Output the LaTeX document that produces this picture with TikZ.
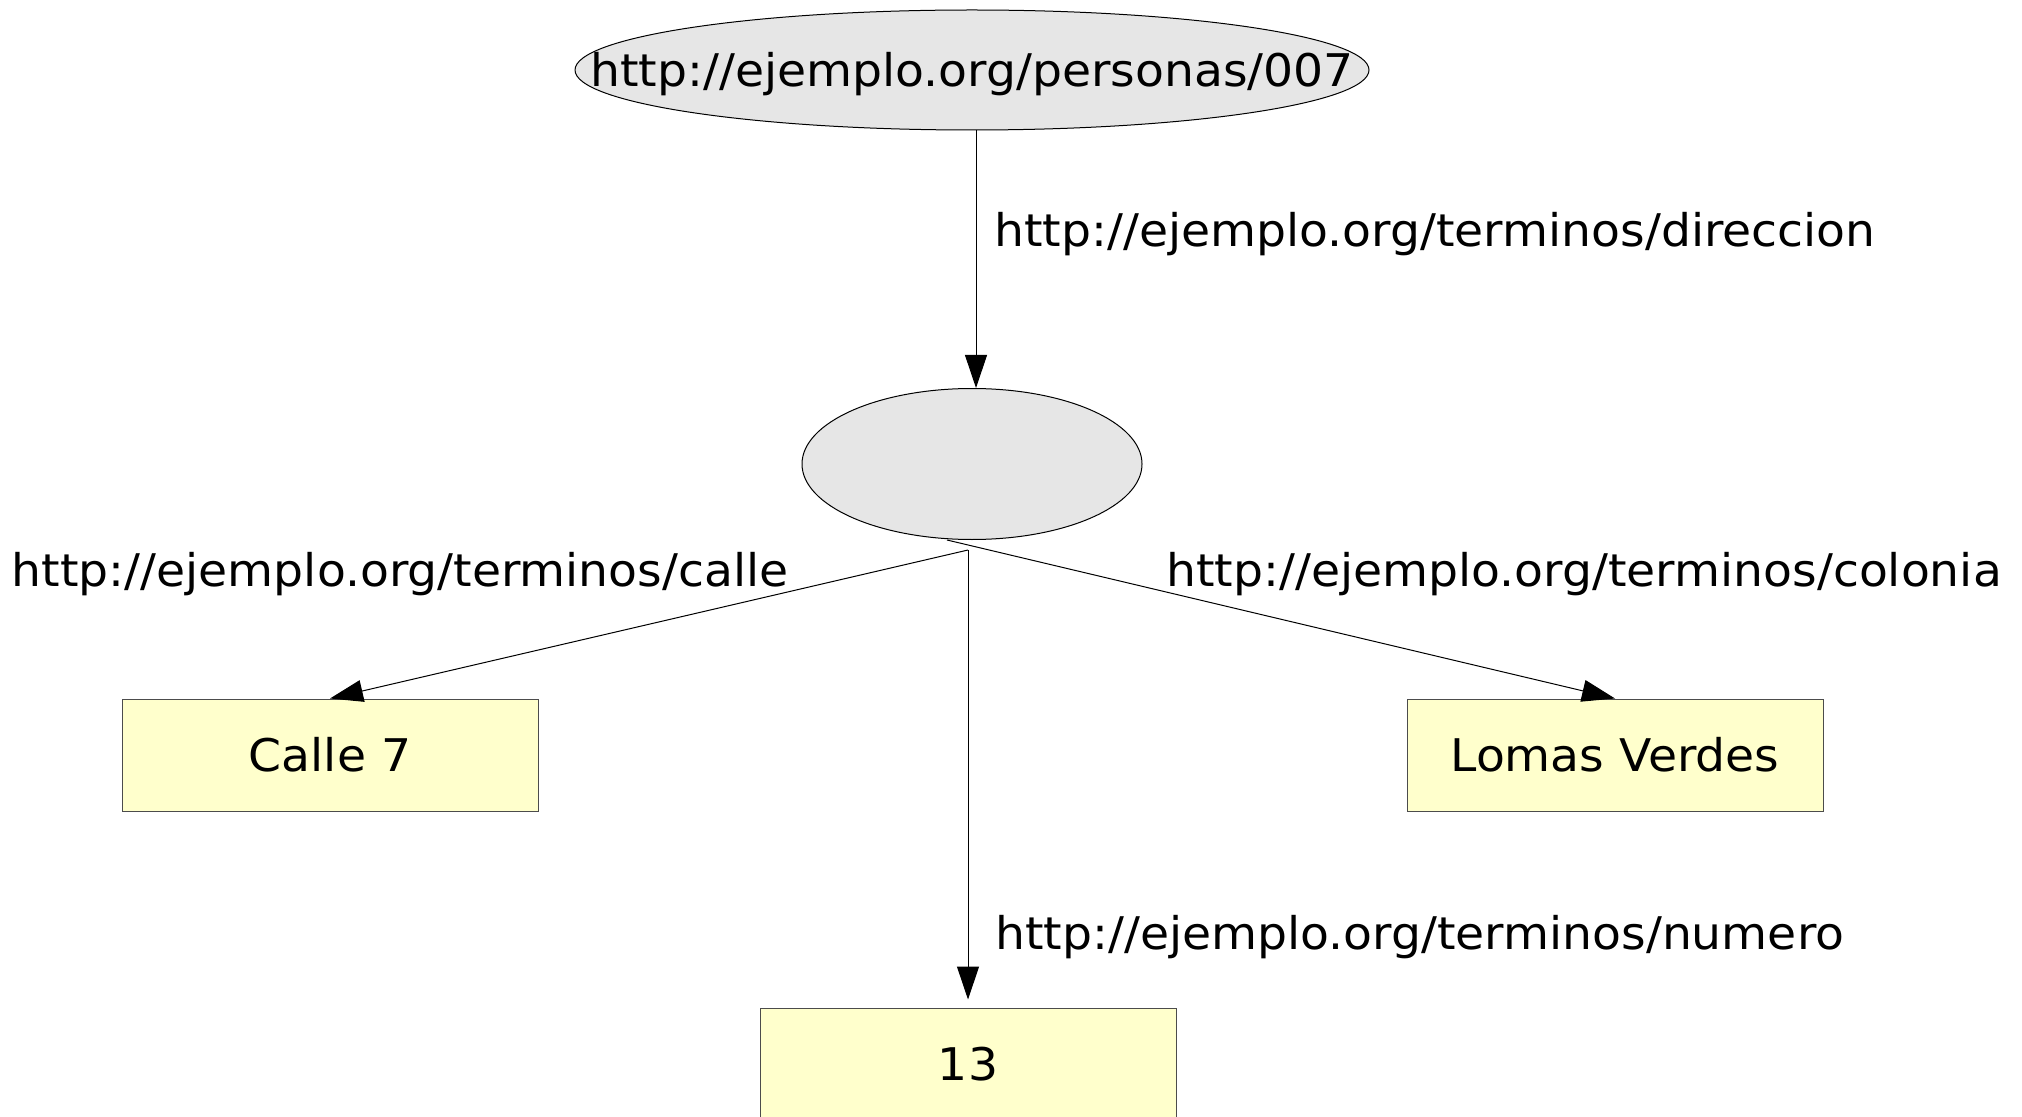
\documentclass[tikz,border=0pt]{standalone}
\usepackage{fontspec}
\setmainfont{DejaVu Sans}[FakeStretch=1.05]
\usetikzlibrary{arrows.meta,shapes.geometric}

\definecolor{nodegray}{HTML}{E6E6E6}
\definecolor{lityellow}{HTML}{FFFFCC}

\begin{document}
\begin{tikzpicture}[x=0.5pt,y=-0.5pt,>={Triangle[length=16.5pt,width=11pt]},line width=0.5pt,
  every node/.style={font=\fontsize{22.5}{27}\selectfont},
  resource/.style={ellipse,draw,fill=nodegray,minimum width=397pt,minimum height=60pt,inner sep=0pt},
  bnode/.style={ellipse,draw,fill=nodegray,minimum width=170pt,minimum height=75.5pt},
  literal/.style={rectangle,draw=black!70,fill=lityellow,minimum width=208pt,minimum height=56pt},
  prop/.style={inner sep=0pt}]

\useasboundingbox (0,0) rectangle (2022,1117);

\node[resource,label={[yshift=-2pt]center:http://ejemplo.org/personas/007}] (persona) at (972,70) {};
  \node[bnode]   (anon) [below of=persona, node distance=197pt] {};
	\node[literal] (calle)   [below of=anon, node distance=145.5pt, xshift=-321pt]  {Calle 7};
	\node[literal] (colonia) [below of=anon, node distance=145.5pt, xshift=321.5pt] {Lomas Verdes};
	\node[literal] (numero)  [below of=anon, node distance=300pt, xshift=-2pt]      {13};

\coordinate (fork) at ([xshift=-2pt,yshift=-5pt]anon.south);

	\path[->] ([xshift=2pt]persona.south) edge node[prop,right=9pt,pos=0.404] (ldireccion) {http://ejemplo.org/terminos/direccion} ([xshift=2pt]anon.north)

        (fork) edge (calle.north)
               edge[shorten >=4pt] node[prop,right=13.5pt,pos=0.846] (lnumero) {http://ejemplo.org/terminos/numero} (numero.north)

        ([xshift=-12.5pt]anon.south) edge (colonia.north);

	\node[prop,anchor=base east] (lcalle)   at (789,586)  {http://ejemplo.org/terminos/calle};
	\node[prop,anchor=base west] (lcolonia) at (1166,586) {http://ejemplo.org/terminos/colonia};

\end{tikzpicture}
\end{document}
